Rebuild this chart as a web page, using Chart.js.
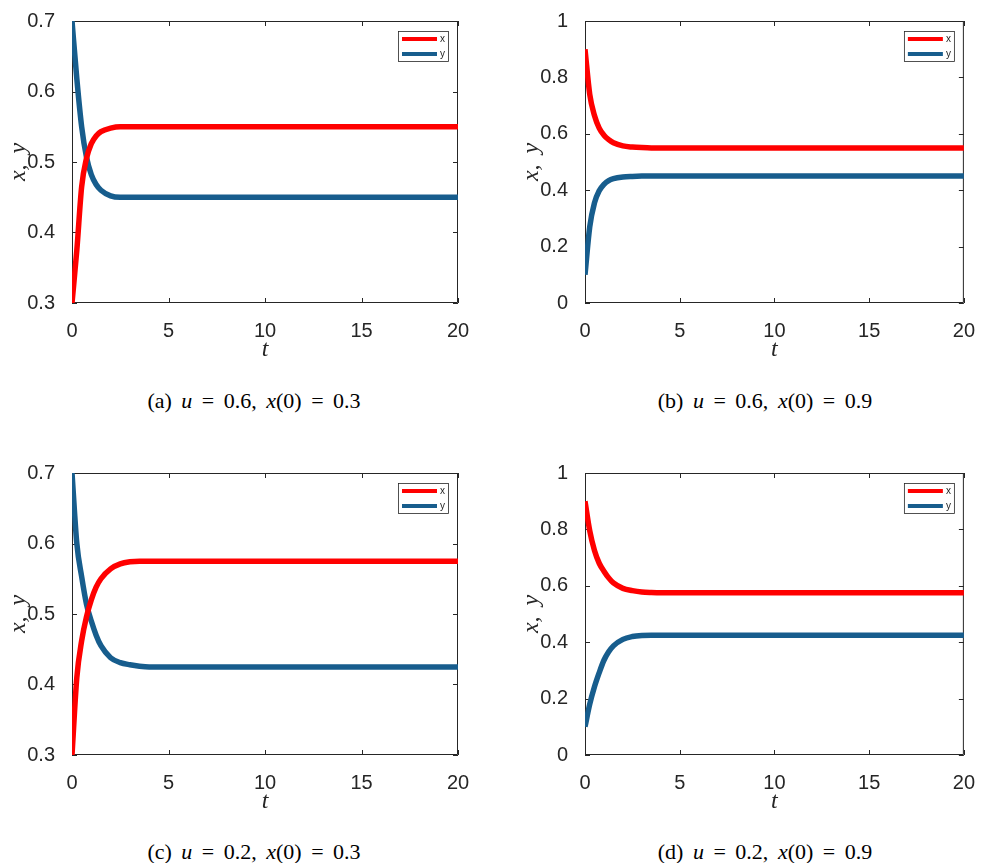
<!DOCTYPE html>
<html>
<head>
<meta charset="utf-8">
<script src="https://cdn.jsdelivr.net/npm/chart.js@4/dist/chart.umd.min.js"></script>
<style>
  body { margin: 0; background: #fff; width: 983px; height: 863px; position: relative; overflow: hidden; }
  .panel { position: absolute; height: 370px; }
  .caption {
    position: absolute; width: 400px; text-align: center; white-space: pre;
    font-family: "Liberation Serif", "Times New Roman", serif; font-size: 22px; line-height: 22px;
    word-spacing: 4px; color: #000;
  }
</style>
</head>
<body>
<div class="panel" style="left:0;top:0;width:491px"><canvas id="chartA" width="491" height="370"></canvas></div>
<div class="panel" style="left:513px;top:0;width:470px"><canvas id="chartB" width="470" height="370"></canvas></div>
<div class="panel" style="left:0;top:452px;width:491px"><canvas id="chartC" width="491" height="370"></canvas></div>
<div class="panel" style="left:513px;top:452px;width:470px"><canvas id="chartD" width="470" height="370"></canvas></div>

<div class="caption" style="left:54px;top:390px">(a) <i>u</i> = 0.6, <i>x</i>(0) = 0.3</div>
<div class="caption" style="left:565px;top:390px">(b) <i>u</i> = 0.6, <i>x</i>(0) = 0.9</div>
<div class="caption" style="left:54px;top:841px">(c) <i>u</i> = 0.2, <i>x</i>(0) = 0.3</div>
<div class="caption" style="left:565px;top:841px">(d) <i>u</i> = 0.2, <i>x</i>(0) = 0.9</div>

<script>
// time samples shared by all four runs
const t = [0, 0.25, 0.5, 0.75, 1, 1.25, 1.5, 2, 2.5, 3, 3.5, 4, 5, 6, 8, 10, 12, 14, 16, 18, 20];

// u = 0.6, x(0) = 0.3
const xA = [0.30, 0.375, 0.465, 0.505, 0.526, 0.537, 0.543, 0.548, 0.55, 0.55, 0.55, 0.55, 0.55, 0.55, 0.55, 0.55, 0.55, 0.55, 0.55, 0.55, 0.55];
const yA = [0.70, 0.618, 0.55, 0.507, 0.482, 0.468, 0.46, 0.452, 0.45, 0.45, 0.45, 0.45, 0.45, 0.45, 0.45, 0.45, 0.45, 0.45, 0.45, 0.45, 0.45];

// u = 0.6, x(0) = 0.9
const xB = [0.90, 0.74, 0.665, 0.62, 0.595, 0.579, 0.568, 0.557, 0.553, 0.551, 0.55, 0.55, 0.55, 0.55, 0.55, 0.55, 0.55, 0.55, 0.55, 0.55, 0.55];
const yB = [0.10, 0.27, 0.355, 0.398, 0.421, 0.434, 0.441, 0.447, 0.449, 0.45, 0.45, 0.45, 0.45, 0.45, 0.45, 0.45, 0.45, 0.45, 0.45, 0.45, 0.45];

// u = 0.2, x(0) = 0.3
const xC = [0.30, 0.41, 0.462, 0.496, 0.52, 0.538, 0.55, 0.564, 0.571, 0.574, 0.575, 0.575, 0.575, 0.575, 0.575, 0.575, 0.575, 0.575, 0.575, 0.575, 0.575];
const yC = [0.70, 0.60, 0.553, 0.514, 0.49, 0.47, 0.455, 0.438, 0.431, 0.428, 0.426, 0.425, 0.425, 0.425, 0.425, 0.425, 0.425, 0.425, 0.425, 0.425, 0.425];

// u = 0.2, x(0) = 0.9
const xD = [0.90, 0.795, 0.725, 0.68, 0.652, 0.628, 0.61, 0.591, 0.583, 0.578, 0.576, 0.575, 0.575, 0.575, 0.575, 0.575, 0.575, 0.575, 0.575, 0.575, 0.575];
const yD = [0.10, 0.18, 0.242, 0.292, 0.336, 0.366, 0.387, 0.41, 0.42, 0.424, 0.425, 0.425, 0.425, 0.425, 0.425, 0.425, 0.425, 0.425, 0.425, 0.425, 0.425];

const tTicks = [0, 5, 10, 15, 20];
const yTicksLow = [0.3, 0.4, 0.5, 0.6, 0.7];
const yTicksFull = [0, 0.2, 0.4, 0.6, 0.8, 1];
const seriesNames = ["x", "y"];

const RED = "#ff0000";
const BLUE = "#175d8d";
const INK = "#262626";
const SANS = '"Liberation Sans", Arial, Helvetica, sans-serif';
const SERIF = '"Liberation Serif", "Times New Roman", serif';

// box around the axes with inward tick marks on all four sides
const framePlugin = {
  id: "frame",
  beforeDatasetsDraw(chart) {
    const { ctx, chartArea: a, scales } = chart;
    const len = 5;
    ctx.save();
    ctx.strokeStyle = INK;
    ctx.lineWidth = 1;
    ctx.beginPath();
    ctx.rect(a.left + 0.5, a.top + 0.5, a.right - a.left - 1, a.bottom - a.top - 1);
    scales.x.ticks.forEach(tk => {
      const px = Math.round(scales.x.getPixelForValue(tk.value)) + 0.5;
      ctx.moveTo(px, a.bottom); ctx.lineTo(px, a.bottom - len);
      ctx.moveTo(px, a.top); ctx.lineTo(px, a.top + len);
    });
    scales.y.ticks.forEach(tk => {
      const py = Math.round(scales.y.getPixelForValue(tk.value)) + 0.5;
      ctx.moveTo(a.left, py); ctx.lineTo(a.left + len, py);
      ctx.moveTo(a.right, py); ctx.lineTo(a.right - len, py);
    });
    ctx.stroke();
    ctx.restore();
  }
};

// small boxed legend in the top right corner
const legendBoxPlugin = {
  id: "legendBox",
  afterDraw(chart) {
    const { ctx, chartArea: a } = chart;
    const w = 50, h = 30;
    const bx = a.right - 10 - w, by = a.top + 10;
    ctx.save();
    ctx.fillStyle = "#fff";
    ctx.fillRect(bx, by, w, h);
    ctx.strokeStyle = INK;
    ctx.lineWidth = 0.8;
    ctx.strokeRect(bx + 0.5, by + 0.5, w, h);
    ctx.font = "10px " + SANS;
    ctx.textBaseline = "middle";
    chart.data.datasets.forEach((ds, i) => {
      const ly = by + 8 + i * 15;
      ctx.strokeStyle = ds.borderColor;
      ctx.lineWidth = 4;
      ctx.beginPath();
      ctx.moveTo(bx + 4, ly); ctx.lineTo(bx + 39, ly);
      ctx.stroke();
      ctx.fillStyle = INK;
      ctx.fillText(ds.label, bx + 42, ly);
    });
    ctx.restore();
  }
};

function series(values) {
  return t.map((tv, i) => ({ x: tv, y: values[i] }));
}

function makePanel(id, xs, ys, yTicks, padRight) {
  const yMin = yTicks[0], yMax = yTicks[yTicks.length - 1];
  const line = (label, values, color) => ({
    label, data: series(values), borderColor: color, backgroundColor: color,
    borderWidth: 5.5, pointRadius: 0, fill: false, clip: 0,
    cubicInterpolationMode: "monotone"
  });
  return new Chart(document.getElementById(id), {
    type: "line",
    data: {
      datasets: [line(seriesNames[0], xs, RED), line(seriesNames[1], ys, BLUE)]
    },
    options: {
      responsive: false,
      animation: false,
      layout: { padding: { top: 17, right: padRight, bottom: 5, left: 0 } },
      plugins: { legend: { display: false }, tooltip: { enabled: false } },
      scales: {
        x: {
          type: "linear", min: 0, max: 20,
          afterBuildTicks: s => { s.ticks = tTicks.map(v => ({ value: v })); },
          afterFit: s => { s.height = 62; },
          grid: { display: false },
          border: { display: false },
          ticks: { color: INK, font: { family: SANS, size: 20 }, padding: 8, maxRotation: 0,
                   callback: v => String(v) },
          title: { display: true, text: "t", color: INK,
                   font: { family: SERIF, style: "italic", size: 24 },
                   padding: { top: 0, bottom: 1 } }
        },
        y: {
          type: "linear", min: yMin, max: yMax,
          afterBuildTicks: s => { s.ticks = yTicks.map(v => ({ value: v })); },
          afterFit: s => { s.width = 72; },
          grid: { display: false },
          border: { display: false },
          ticks: { color: INK, font: { family: SANS, size: 20 }, padding: 9,
                   callback: v => String(v) },
          title: { display: true, text: "x, \u2009y", color: INK,
                   font: { family: SERIF, style: "italic", size: 24 },
                   padding: { top: 4, bottom: 0 } }
        }
      }
    },
    plugins: [framePlugin, legendBoxPlugin]
  });
}

makePanel("chartA", xA, yA, yTicksLow, 33);
makePanel("chartB", xB, yB, yTicksFull, 13);
makePanel("chartC", xC, yC, yTicksLow, 33);
makePanel("chartD", xD, yD, yTicksFull, 13);
</script>
</body>
</html>
